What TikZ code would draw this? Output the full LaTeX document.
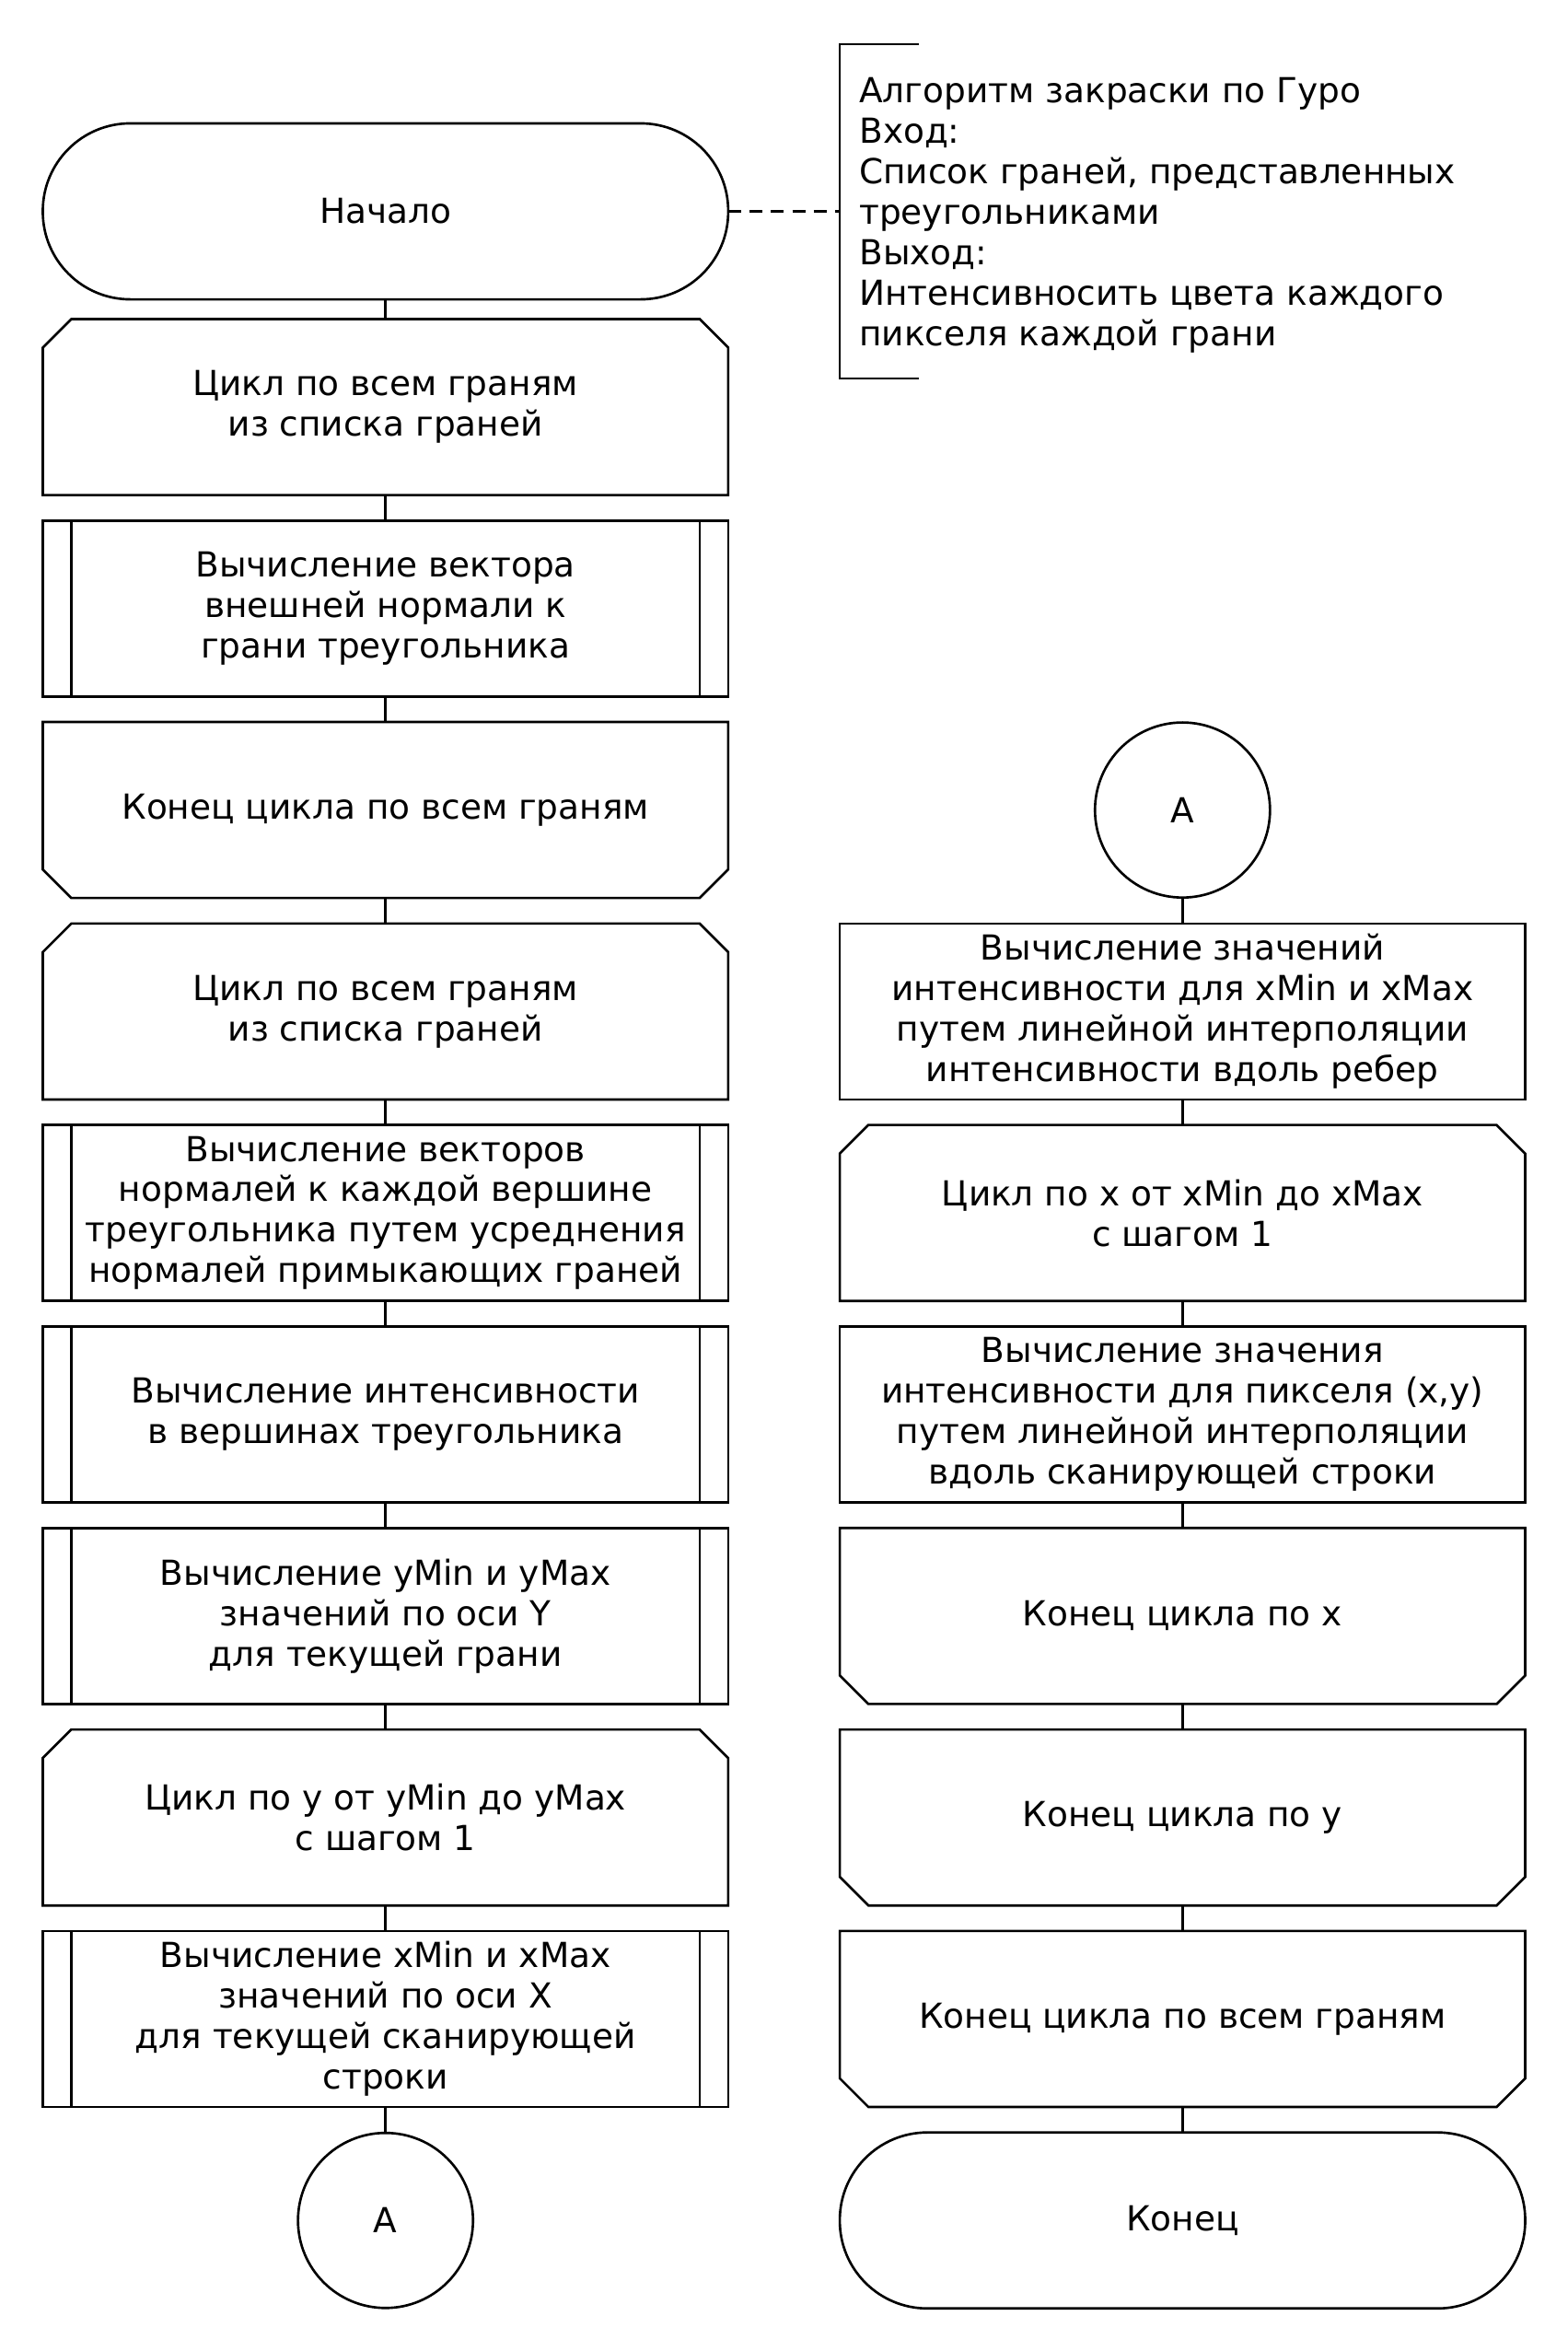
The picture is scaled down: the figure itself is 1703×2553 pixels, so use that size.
\documentclass[tikz,border=0pt]{standalone}
\usepackage{fontspec}
\setmainfont{DejaVu Sans}

\begin{document}
\begin{tikzpicture}%
        [x=0.01cm,
        y=-0.01cm,
        line width=0.75pt,
        every node/.style={font=\fontsize{10.65}{12.5}\selectfont, align=center},
        blk/.style={minimum width=7.44cm, minimum height=1.91cm, inner sep=0pt, outer sep=0pt},
        proc/.style={blk, draw},
        term/.style={blk, draw, rounded corners=0.95cm},
        conn/.style={circle, draw, minimum size=1.9cm, inner sep=0pt, outer sep=0pt},
        subproc/.style={blk, draw,
            path picture={\draw ([xshift=0.31cm]path picture bounding box.north west) -- ([xshift=0.31cm]path picture bounding box.south west);
                          \draw ([xshift=-0.31cm]path picture bounding box.north east) -- ([xshift=-0.31cm]path picture bounding box.south east);}},
        loopbeg/.style={blk, append after command={\pgfextra{\draw
            (\tikzlastnode.south west) -- ([yshift=-0.31cm]\tikzlastnode.north west)
            -- ([xshift=0.31cm]\tikzlastnode.north west) -- ([xshift=-0.31cm]\tikzlastnode.north east)
            -- ([yshift=-0.31cm]\tikzlastnode.north east) -- (\tikzlastnode.south east) -- cycle;}}},
        loopend/.style={blk, append after command={\pgfextra{\draw
            (\tikzlastnode.north west) -- ([yshift=0.31cm]\tikzlastnode.south west)
            -- ([xshift=0.31cm]\tikzlastnode.south west) -- ([xshift=-0.31cm]\tikzlastnode.south east)
            -- ([yshift=0.31cm]\tikzlastnode.south east) -- (\tikzlastnode.north east) -- cycle;}}},
        cmtline/.style={dash pattern=on 4pt off 2.6pt}]

    \useasboundingbox (0,0) rectangle (1703,2553);

    %% Left column
    \node[term]    (start) at (418.7, 229.5)  {Начало};
    \node[loopbeg] (faces) at (418.7, 442.0)  {Цикл по всем граням\\из списка граней};
    \node[subproc] (outn)  at (418.7, 660.8)  {Вычисление вектора\\внешней нормали к\\грани треугольника};
    \node[loopend] (facese) at (418.7, 879.6) {Конец цикла по всем граням};
    \node[loopbeg] (facesb) at (418.7, 1098.4) {Цикл по всем граням\\из списка граней};
    \node[subproc] (vnorm) at (418.7, 1317.2) {Вычисление векторов\\нормалей к каждой вершине\\треугольника путем усреднения\\нормалей примыкающих граней};
    \node[subproc] (vint)  at (418.7, 1536.0) {Вычисление интенсивности\\в вершинах треугольника};
    \node[subproc] (ylim)  at (418.7, 1754.8) {Вычисление yMin и yMax\\значений по оси Y\\для текущей грани};
    \node[loopbeg] (yloop) at (418.7, 1973.6) {Цикл по y от yMin до yMax\\с шагом 1};
    \node[subproc] (xlim)  at (418.7, 2192.4) {Вычисление xMin и xMax\\значений по оси X\\для текущей сканирующей\\строки};
    \node[conn]    (ca)    at (418.7, 2411.2) {A};

    %% Right column
    \node[conn]    (cb)    at (1284.3, 879.6)  {A};
    \node[proc]    (eint)  at (1284.3, 1098.4) {Вычисление значений\\интенсивности для xMin и xMax\\путем линейной интерполяции\\интенсивности вдоль ребер};
    \node[loopbeg] (xloop) at (1284.3, 1317.2) {Цикл по x от xMin до xMax\\с шагом 1};
    \node[proc]    (pint)  at (1284.3, 1536.0) {Вычисление значения\\интенсивности для пикселя (x,y)\\путем линейной интерполяции\\вдоль сканирующей строки};
    \node[loopend] (xloope) at (1284.3, 1754.8) {Конец цикла по x};
    \node[loopend] (yloope) at (1284.3, 1973.6) {Конец цикла по y};
    \node[loopend] (facesbe) at (1284.3, 2192.4) {Конец цикла по всем граням};
    \node[term]    (stop)  at (1284.3, 2411.2) {Конец};

    %% Comment
    \coordinate (brk) at (912, 229.5);
    \node[anchor=west, align=left, inner sep=0pt] (cmt) at (932, 234) {Алгоритм закраски по Гуро\\Вход:\\Список граней, представленных\\треугольниками\\Выход:\\Интенсивносить цвета каждого\\пикселя каждой грани};
    \draw (998, 48) -| (brk) |- (998, 411);
    \draw[cmtline] (start) -- (brk);

    %% Connectors
    \draw (start) -- (faces) -- (outn) -- (facese) -- (facesb) -- (vnorm) -- (vint) -- (ylim) -- (yloop) -- (xlim) -- (ca);
    \draw (cb) -- (eint) -- (xloop) -- (pint) -- (xloope) -- (yloope) -- (facesbe) -- (stop);
    \end{tikzpicture}
\end{document}
